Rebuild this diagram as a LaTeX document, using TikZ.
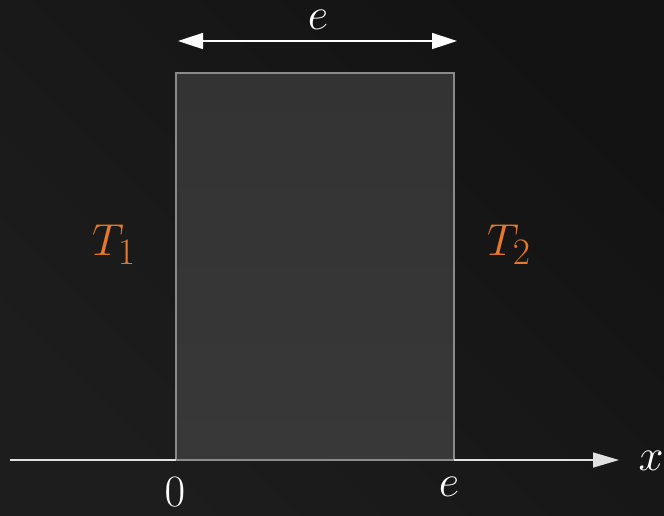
\documentclass[tikz,border=0pt]{standalone}
\usetikzlibrary{arrows.meta}
\definecolor{bgA}{HTML}{131313}
\definecolor{bgB}{HTML}{1D1D1D}
\definecolor{slab}{HTML}{333333}
\definecolor{slabB}{HTML}{383838}
\definecolor{slabedge}{HTML}{8A8A8A}
\definecolor{axiscol}{HTML}{E0E0E0}
\definecolor{temp}{HTML}{E8782A}
\newcommand{\bigtxt}[1]{\scalebox{1.8}{\Huge #1}}
\tikzset{
  lbl/.style={text=white, inner sep=0pt},
  tlbl/.style={text=temp, inner sep=0pt},
}
\begin{document}
\begin{tikzpicture}[x=1pt,y=-1pt]
\useasboundingbox (0,0) rectangle (664,515);
\shade[left color=bgA, right color=bgB, shading angle=-45] (0,0) rectangle (664,515);
% slab
\shade[top color=slab, bottom color=slabB, draw=slabedge, line width=2.5pt] (176,73) rectangle (454,460);
% axis
\coordinate (xa) at (10,460);
\coordinate (xb) at (619,460);
\draw[axiscol, line width=1.6pt] (xa) -- (176,460);
\draw[axiscol, line width=1.6pt, -{Triangle[length=26pt,width=15pt]}] (454,460) -- (xb);
\draw[slabedge, line width=2.5pt] (176,460) -- (454,460);
\node[lbl] (xl) at (651,461) {\bigtxt{$x$}};
\node[lbl] (zero) at (175,492) {\bigtxt{$0$}};
\node[lbl] (eb) at (449,487) {\bigtxt{$e$}};
% dimension
\coordinate (da) at (178,41);
\coordinate (db) at (457,41);
\draw[white, line width=1.6pt, {Triangle[length=25pt,width=16pt]}-{Triangle[length=25pt,width=16pt]}] (da) -- (db);
\node[lbl] (et) at (318,20) {\bigtxt{$e$}};
\node[tlbl] (t1) at (114,245) {\bigtxt{$T_1$}};
\node[tlbl] (t2) at (509,245) {\bigtxt{$T_2$}};
\end{tikzpicture}
\end{document}
